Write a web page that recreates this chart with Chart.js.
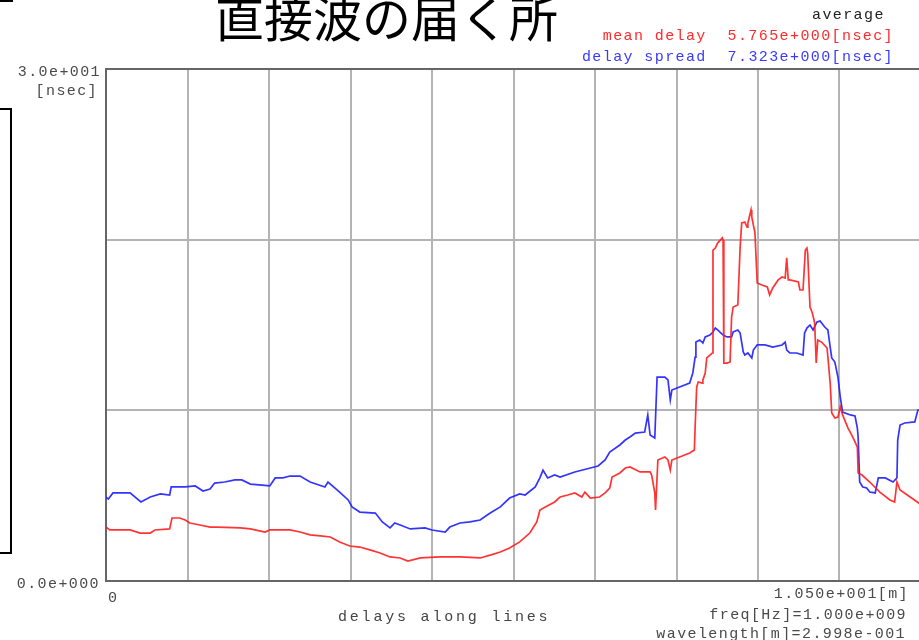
<!DOCTYPE html>
<html lang="ja">
<head>
<meta charset="UTF-8">
<title>直接波の届く所</title>
<script src="https://cdn.jsdelivr.net/npm/chart.js@4"></script>
<style>
  html, body { margin: 0; padding: 0; background: #fff; width: 919px; height: 640px; overflow: hidden; }
  #wrap { position: absolute; left: 0; top: 0; width: 940px; height: 640px; }
  .t { position: absolute; font: 15px "Liberation Mono", monospace; letter-spacing: 1.4px; line-height: 15px; white-space: pre; color: #4a4a4a; }
  #title { position: absolute; left: 215px; top: -9px; font: 49px "Noto Sans CJK JP", sans-serif; line-height: 49px; color: #000; white-space: nowrap; }
  #box { position: absolute; left: -2px; top: 108px; width: 14px; height: 446px; border: 2px solid #000; box-sizing: border-box; }
  #mark { position: absolute; left: 0; top: 0; width: 13px; height: 2px; background: #000; }
</style>
</head>
<body>
<div id="wrap"><canvas id="c" width="940" height="640"></canvas></div>
<div id="mark"></div>
<div id="box"></div>
<div id="title">直接波の届く所</div>
<div class="t" style="left:812px;top:8px;color:#222">average</div>
<div class="t" style="right:25px;top:29px;color:#ff2a2a">mean delay  5.765e+000[nsec]</div>
<div class="t" style="right:25px;top:50px;color:#3a3aff">delay spread  7.323e+000[nsec]</div>
<div class="t" style="right:818px;top:65px">3.0e+001</div>
<div class="t" style="right:821px;top:84px">[nsec]</div>
<div class="t" style="right:819px;top:577px">0.0e+000</div>
<div class="t" style="left:108px;top:591px">0</div>
<div class="t" style="right:10px;top:587px">1.050e+001[m]</div>
<div class="t" style="right:12px;top:608px">freq[Hz]=1.000e+009</div>
<div class="t" style="right:13px;top:627px">wavelength[m]=2.998e-001</div>
<div class="t" style="left:338px;top:610px;letter-spacing:2.8px;color:#444">delays along lines</div>
<script>
// grid positions (m, nsec)
const X_GRID = [0, 1.05, 2.1, 3.15, 4.2, 5.25, 6.3, 7.35, 8.4, 9.45, 10.5];
const Y_GRID = [0, 10, 20, 30];

// delay spread [nsec] along the line [m]
const BLUE_X = [0.00,0.03,0.09,0.31,0.45,0.57,0.70,0.82,0.84,1.02,1.15,1.25,1.34,1.40,1.53,1.66,1.75,1.86,2.01,2.11,
  2.18,2.28,2.37,2.50,2.63,2.82,2.86,3.01,3.12,3.17,3.27,3.47,3.56,3.66,3.72,3.79,3.92,4.11,4.20,4.37,
  4.43,4.56,4.69,4.82,4.95,5.08,5.20,5.33,5.40,5.53,5.59,5.63,5.69,5.78,5.85,6.04,6.24,6.34,6.43,6.49,
  6.62,6.69,6.75,6.82,6.94,6.98,7.01,7.07,7.10,7.20,7.24,7.27,7.29,7.39,7.52,7.56,7.59,7.60,7.65,7.69,
  7.72,7.78,7.82,7.85,7.88,7.95,8.00,8.06,8.08,8.14,8.17,8.21,8.23,8.27,8.32,8.34,8.39,8.49,8.59,8.71,
  8.75,8.77,8.81,8.90,8.98,9.00,9.03,9.07,9.11,9.16,9.20,9.26,9.30,9.33,9.35,9.39,9.43,9.46,9.49,9.59,
  9.65,9.68,9.69,9.71,9.75,9.80,9.84,9.91,9.95,10.04,10.14,10.19,10.20,10.23,10.29,10.42,10.46,10.50];
const BLUE_Y = [4.92,4.80,5.16,5.16,4.63,4.92,5.10,5.04,5.51,5.51,5.57,5.27,5.39,5.74,5.80,5.92,5.92,5.68,5.62,5.57,
  6.04,6.04,6.15,6.15,5.80,5.51,5.80,5.21,4.75,4.34,4.04,3.98,3.46,3.11,3.40,3.28,3.05,3.11,2.99,2.87,
  3.16,3.40,3.46,3.57,3.98,4.34,4.86,5.10,5.04,5.51,6.04,6.50,6.04,6.21,6.09,6.39,6.62,6.74,7.09,7.56,
  7.97,8.26,8.44,8.67,8.73,9.73,8.55,8.38,11.95,11.95,11.78,10.61,11.19,11.37,11.60,12.19,13.12,14.00,14.12,13.94,
  14.30,14.41,14.59,14.82,14.71,14.41,14.30,14.30,14.59,14.71,14.53,13.42,13.24,13.36,13.07,13.53,13.83,13.83,13.71,13.83,
  14.00,13.53,13.36,13.36,13.24,14.53,14.82,15.00,14.71,15.18,15.23,14.88,14.71,13.71,13.07,12.83,11.95,10.78,9.90,9.73,
  9.67,8.96,8.44,5.80,5.51,5.45,5.21,5.16,6.04,6.04,5.80,6.04,8.26,9.14,9.26,9.32,10.02,10.02];

// mean delay [nsec] along the line [m]
const RED_X = [0.00,0.05,0.31,0.44,0.57,0.63,0.82,0.85,0.95,1.02,1.08,1.21,1.34,1.43,1.73,1.86,2.05,2.11,2.37,2.50,
  2.63,2.76,2.89,3.01,3.14,3.27,3.40,3.53,3.66,3.79,3.89,4.05,4.30,4.56,4.82,4.95,5.08,5.20,5.33,5.46,
  5.55,5.59,5.66,5.78,5.85,5.95,6.04,6.13,6.17,6.24,6.36,6.43,6.49,6.52,6.62,6.69,6.75,6.88,7.01,7.03,
  7.07,7.08,7.11,7.20,7.24,7.27,7.29,7.39,7.52,7.58,7.59,7.61,7.63,7.68,7.69,7.72,7.74,7.78,7.81,7.82,
  7.85,7.88,7.94,7.95,7.96,8.00,8.04,8.06,8.08,8.14,8.17,8.19,8.23,8.26,8.27,8.31,8.32,8.34,8.36,8.39,
  8.45,8.52,8.55,8.59,8.66,8.71,8.75,8.77,8.79,8.81,8.92,8.94,8.98,9.01,9.03,9.04,9.07,9.10,9.13,9.15,
  9.17,9.22,9.29,9.33,9.35,9.39,9.43,9.46,9.49,9.56,9.62,9.68,9.69,9.74,9.84,9.97,10.10,10.16,10.19,10.23,
  10.36,10.47,10.50];
const RED_Y = [3.16,2.99,2.99,2.81,2.81,2.99,3.05,3.69,3.69,3.57,3.40,3.28,3.16,3.16,3.11,3.05,2.87,2.99,2.99,2.87,
  2.70,2.64,2.58,2.29,2.05,1.99,1.82,1.64,1.41,1.35,1.17,1.35,1.41,1.41,1.35,1.52,1.70,1.93,2.29,2.81,
  3.46,4.16,4.34,4.63,4.92,5.04,5.16,4.92,5.21,4.86,4.92,5.16,5.45,6.09,6.33,6.62,6.68,6.39,6.39,6.21,
  5.16,4.16,7.09,7.27,7.09,6.50,7.09,7.27,7.50,7.68,9.02,11.37,11.66,11.60,11.78,12.19,13.07,13.24,13.36,19.39,
  19.51,19.80,20.10,19.98,12.77,12.77,12.83,15.47,16.05,16.17,19.57,20.98,21.03,20.74,20.98,21.74,21.33,20.86,20.45,17.46,
  17.34,17.23,16.76,17.17,17.64,17.81,17.75,18.93,17.64,17.64,17.52,17.05,17.05,19.39,19.51,19.22,16.05,15.70,15.12,12.77,
  14.12,14.00,13.65,11.60,9.84,9.55,9.61,10.20,9.73,8.96,8.44,7.85,6.33,6.21,5.80,5.21,4.75,4.63,5.80,5.33,
  4.92,4.57,4.45];

const pts = (xs, ys) => xs.map((x, i) => ({ x, y: ys[i] }));

// top frame line (the library only draws bottom/left borders)
const frameTop = {
  id: 'frameTop',
  afterDraw(chart) {
    const { ctx, chartArea: a } = chart;
    ctx.save();
    ctx.strokeStyle = '#666';
    ctx.lineWidth = 2;
    ctx.beginPath();
    ctx.moveTo(a.left - 1, a.top);
    ctx.lineTo(a.right, a.top);
    ctx.stroke();
    ctx.restore();
  }
};

new Chart(document.getElementById('c'), {
  type: 'line',
  data: {
    datasets: [
      { label: 'mean delay', data: pts(RED_X, RED_Y), borderColor: 'rgba(255,30,30,0.9)', borderWidth: 1.7, pointRadius: 0, tension: 0 },
      { label: 'delay spread', data: pts(BLUE_X, BLUE_Y), borderColor: 'rgba(30,30,255,0.9)', borderWidth: 1.7, pointRadius: 0, tension: 0 },
    ],
  },
  options: {
    responsive: false,
    animation: false,
    devicePixelRatio: 1,
    layout: { padding: { left: 106, top: 69, right: 19, bottom: 59 } },
    plugins: { legend: { display: false }, tooltip: { enabled: false } },
    scales: {
      x: {
        type: 'linear', min: 0, max: 10.5,
        afterBuildTicks: s => { s.ticks = X_GRID.map(v => ({ value: v })); },
        ticks: { display: false },
        grid: { color: '#b4b4b4', lineWidth: 2, drawTicks: false },
        border: { display: true, color: '#666', width: 2 },
      },
      y: {
        min: 0, max: 30,
        afterBuildTicks: s => { s.ticks = Y_GRID.map(v => ({ value: v })); },
        ticks: { display: false },
        grid: { color: '#b4b4b4', lineWidth: 2, drawTicks: false },
        border: { display: true, color: '#666', width: 2 },
      },
    },
  },
  plugins: [frameTop],
});
</script>
</body>
</html>
